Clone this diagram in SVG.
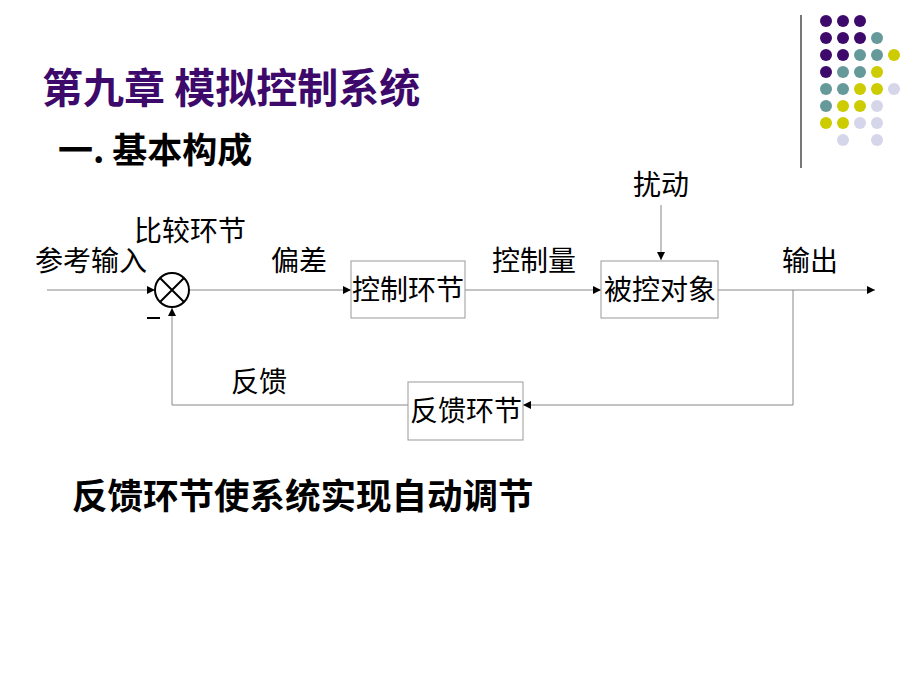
<svg xmlns="http://www.w3.org/2000/svg" width="920" height="690" viewBox="0 0 920 690">
<style>
.t{font-family:"Noto Sans CJK SC",sans-serif;font-size:28px;fill:#000}
.b{fill:#fff;stroke:#999;stroke-width:1}
.c{fill:none;stroke:#888;stroke-width:1}
.P{fill:#3d0a6b}.T{fill:#669999}.Y{fill:#cccc00}.L{fill:#d6d6ea}
</style>
<defs><marker id="a" viewBox="0 0 10 10" refX="10" refY="5" markerWidth="10" markerHeight="8" markerUnits="userSpaceOnUse" orient="auto"><path d="M0,0L10,5L0,10z" fill="#000"/></marker></defs>
<rect width="920" height="690" fill="#fff"/>
<line x1="801" y1="15" x2="801" y2="168" stroke="#777" stroke-width="2"/>
<g>
<circle class="P" cx="826" cy="21" r="6"/><circle class="P" cx="843" cy="21" r="6"/><circle class="P" cx="860" cy="21" r="6"/>
<circle class="P" cx="826" cy="38" r="6"/><circle class="P" cx="843" cy="38" r="6"/><circle class="P" cx="860" cy="38" r="6"/><circle class="T" cx="877" cy="38" r="6"/>
<circle class="P" cx="826" cy="55" r="6"/><circle class="P" cx="843" cy="55" r="6"/><circle class="T" cx="860" cy="55" r="6"/><circle class="T" cx="877" cy="55" r="6"/><circle class="Y" cx="894" cy="55" r="6"/>
<circle class="P" cx="826" cy="72" r="6"/><circle class="T" cx="843" cy="72" r="6"/><circle class="T" cx="860" cy="72" r="6"/><circle class="Y" cx="877" cy="72" r="6"/>
<circle class="T" cx="826" cy="89" r="6"/><circle class="T" cx="843" cy="89" r="6"/><circle class="Y" cx="860" cy="89" r="6"/><circle class="Y" cx="877" cy="89" r="6"/><circle class="L" cx="894" cy="89" r="6"/>
<circle class="T" cx="826" cy="106" r="6"/><circle class="Y" cx="843" cy="106" r="6"/><circle class="Y" cx="860" cy="106" r="6"/><circle class="L" cx="877" cy="106" r="6"/>
<circle class="Y" cx="826" cy="123" r="6"/><circle class="Y" cx="843" cy="123" r="6"/><circle class="L" cx="860" cy="123" r="6"/><circle class="L" cx="877" cy="123" r="6"/>
<circle class="L" cx="843" cy="140" r="6"/><circle class="L" cx="877" cy="140" r="6"/>
</g>
<text x="42" y="103" font-family="'Noto Sans CJK SC',sans-serif" font-size="41" font-weight="bold" fill="#3d0a6b">第九章 模拟控制系统</text>
<text x="58" y="163" font-family="'Noto Sans CJK SC',sans-serif" font-size="35" font-weight="bold">一. 基本构成</text>
<g id="connectors">
<line class="c" x1="47" y1="290" x2="155" y2="290" marker-end="url(#a)"/>
<line class="c" x1="189" y1="290" x2="351" y2="290" marker-end="url(#a)"/>
<line class="c" x1="465" y1="290" x2="601" y2="290" marker-end="url(#a)"/>
<line class="c" x1="718" y1="290" x2="875" y2="290" marker-end="url(#a)"/>
<line class="c" x1="661" y1="205" x2="661" y2="260" marker-end="url(#a)"/>
<polyline class="c" points="793,290 793,405 523,405" marker-end="url(#a)"/>
<polyline class="c" points="408,405 172,405 172,308" marker-end="url(#a)"/>
</g>
<g id="sum"><circle cx="172" cy="290" r="17" fill="#fff" stroke="#000" stroke-width="2"/><path d="M160,278L184,302M184,278L160,302" stroke="#000" stroke-width="2"/><line x1="147" y1="318" x2="160" y2="318" stroke="#000" stroke-width="2"/></g>
<g id="ctrl"><rect class="b" x="351" y="261" width="114" height="57"/><text class="t" x="408" y="300" text-anchor="middle">控制环节</text></g>
<g id="plant"><rect class="b" x="601" y="261" width="117" height="57"/><text class="t" x="660" y="300" text-anchor="middle">被控对象</text></g>
<g id="fb"><rect class="b" x="408" y="382" width="115" height="58"/><text class="t" x="466" y="421" text-anchor="middle">反馈环节</text></g>
<text class="t" x="35" y="271">参考输入</text>
<text class="t" x="134" y="241">比较环节</text>
<text class="t" x="271" y="271">偏差</text>
<text class="t" x="492" y="271">控制量</text>
<text class="t" x="633" y="195">扰动</text>
<text class="t" x="782" y="271">输出</text>
<text class="t" x="231" y="392">反馈</text>
<text x="72" y="509" font-family="'Noto Sans CJK SC',sans-serif" font-size="35.5" font-weight="bold">反馈环节使系统实现自动调节</text>
</svg>
